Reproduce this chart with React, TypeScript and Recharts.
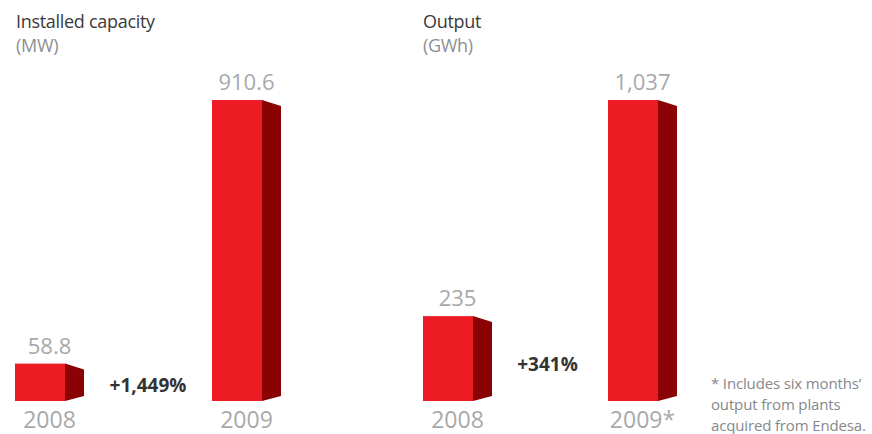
import { Bar, BarChart, LabelList, XAxis, YAxis } from "recharts";

// Installed capacity (MW)
const capacityYears = ["2008", "2009"];
const capacityValues = [58.8, 910.6];
const capacityChange = "+1,449%";

// Output (GWh)
const outputYears = ["2008", "2009*"];
const outputValues = [235, 1037];
const outputChange = "+341%";

const footnote = [
  "* Includes six months\u2019",
  "output from plants",
  "acquired from Endesa.",
];

const FONT = "'Open Sans', 'Noto Sans', sans-serif";
const RED = "#ED1C24";
const DARK_RED = "#8A0204";
const LABEL_GREY = "#A7A9AC";
const SIDE = 19;

const capacityData = capacityYears.map((year, i) => ({ year, value: capacityValues[i] }));
const outputData = outputYears.map((year, i) => ({ year, value: outputValues[i] }));

// bar with a darker side face, drawn down to the bottom of the plot
const Block = (props: any) => {
  const { x, y, width, height, background } = props;
  const bottom = background ? background.y + background.height : y + height;
  const front = width - SIDE;
  return (
    <g>
      <rect x={x} y={y} width={front} height={bottom - y} fill={RED} />
      <polygon
        points={`${x + front},${y} ${x + width},${y + 6} ${x + width},${bottom - 5} ${x + front},${bottom}`}
        fill={DARK_RED}
      />
    </g>
  );
};

const YearTick = (props: any) => {
  const { x, y, payload } = props;
  return (
    <text x={x} y={y + 27} textAnchor="middle" fill={LABEL_GREY} fontSize={23} fontFamily={FONT}>
      {payload.value}
    </text>
  );
};

function Panel({ data, min, left, width }: { data: any[]; min: number; left: number; width: number }) {
  return (
    <div style={{ position: "absolute", left, top: 0 }}>
      <BarChart width={width} height={434} data={data} margin={{ top: 100, right: 0, bottom: 0, left: 0 }}>
        <XAxis
          dataKey="year"
          height={33}
          axisLine={false}
          tickLine={false}
          tickSize={0}
          tickMargin={0}
          tick={<YearTick />}
          interval={0}
        />
        <YAxis hide type="number" domain={[min, "dataMax"]} />
        <Bar dataKey="value" barSize={69} shape={<Block />} isAnimationActive={false}>
          <LabelList
            dataKey="value"
            position="top"
            offset={10}
            fill={LABEL_GREY}
            fontSize={22}
            fontFamily={FONT}
            formatter={(v: any) => Number(v).toLocaleString("en-US")}
          />
        </Bar>
      </BarChart>
    </div>
  );
}

export default function App() {
  return (
    <div style={{ position: "absolute", left: 0, top: 0, width: 872, height: 434, background: "#fff", overflow: "hidden" }}>
      <Panel data={capacityData} min={-62} left={-49} width={394} />
      <Panel data={outputData} min={-80} left={365} width={370} />

      <svg width={872} height={434} style={{ position: "absolute", left: 0, top: 0, pointerEvents: "none" }} fontFamily={FONT}>
        <text x={16} y={28} fontSize={18} fill="#3A3A3A" letterSpacing={-0.3}>Installed capacity</text>
        <text x={16} y={51.5} fontSize={18} fill="#8C8F92" letterSpacing={-0.3}>(MW)</text>
        <text x={423} y={28} fontSize={18} fill="#3A3A3A" letterSpacing={-0.3}>Output</text>
        <text x={423} y={51.5} fontSize={18} fill="#8C8F92" letterSpacing={-0.3}>(GWh)</text>

        <text x={148} y={391.5} textAnchor="middle" fontSize={19} fontWeight={700} fill="#333">{capacityChange}</text>
        <text x={547.5} y={370.5} textAnchor="middle" fontSize={19} fontWeight={700} fill="#333">{outputChange}</text>

        {footnote.map((line, i) => (
          <text key={i} x={711} y={389 + i * 21} fontSize={15} letterSpacing={-0.15} fill="#86888B">{line}</text>
        ))}
      </svg>
    </div>
  );
}
